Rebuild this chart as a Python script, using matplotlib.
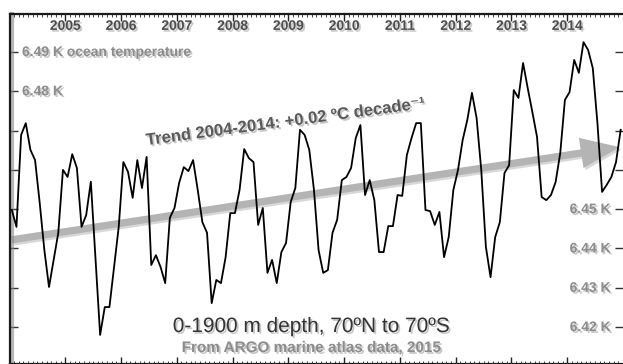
import numpy as np
import matplotlib
matplotlib.use("Agg")
import matplotlib.pyplot as plt
import matplotlib.patheffects as pe
from matplotlib.transforms import blended_transform_factory

plt.rcParams['font.family'] = ['Liberation Sans', 'DejaVu Sans']

# ---------------- data ----------------
start_year = 2004
# monthly mean ocean temperature (K), Jan 2004 .. Dec 2014, 0-1900 m
temperature = [
    6.4498, 6.4455, 6.4689, 6.4719, 6.4651, 6.4625, 6.4516, 6.4396, 6.4302, 6.4371, 6.4440, 6.4600,
    6.4582, 6.4640, 6.4605, 6.4455, 6.4485, 6.4570, 6.4376, 6.4180, 6.4251, 6.4251, 6.4353, 6.4455,
    6.4620, 6.4595, 6.4529, 6.4625, 6.4554, 6.4633, 6.4358, 6.4383, 6.4353, 6.4312, 6.4478, 6.4503,
    6.4567, 6.4607, 6.4597, 6.4625, 6.4549, 6.4467, 6.4440, 6.4261, 6.4320, 6.4312, 6.4378, 6.4490,
    6.4490, 6.4549, 6.4653, 6.4630, 6.4620, 6.4460, 6.4503, 6.4338, 6.4371, 6.4312, 6.4391, 6.4414,
    6.4518, 6.4554, 6.4702, 6.4689, 6.4651, 6.4550, 6.4396, 6.4338, 6.4345, 6.4440, 6.4473, 6.4574,
    6.4582, 6.4605, 6.4681, 6.4714, 6.4536, 6.4574, 6.4523, 6.4391, 6.4391, 6.4457, 6.4457, 6.4536,
    6.4534, 6.4638, 6.4681, 6.4719, 6.4719, 6.4498, 6.4495, 6.4460, 6.4493, 6.4378, 6.4429, 6.4549,
    6.4600, 6.4676, 6.4727, 6.4796, 6.4732, 6.4600, 6.4404, 6.4327, 6.4429, 6.4467, 6.4592, 6.4612,
    6.4803, 6.4783, 6.4872, 6.4808, 6.4747, 6.4684, 6.4531, 6.4523, 6.4536, 6.4569, 6.4643, 6.4778,
    6.4798, 6.4880, 6.4847, 6.4925, 6.4905, 6.4859, 6.4719, 6.4544, 6.4562, 6.4582, 6.4620, 6.4702,
]
year_labels = ['2005', '2006', '2007', '2008', '2009', '2010', '2011', '2012', '2013', '2014']
ytick_values = [6.42, 6.43, 6.44, 6.45, 6.46, 6.47, 6.48, 6.49]
left_labels = {6.49: '6.49 K ocean temperature', 6.48: '6.48 K'}
right_labels = {6.45: '6.45 K', 6.44: '6.44 K', 6.43: '6.43 K', 6.42: '6.42 K'}
trend_start_value = 6.4422
trend_end_value = 6.4658
trend_end_time = 2014.94
trend_text = 'Trend 2004-2014: +0.02 \u00baC decade\u207b\u00b9'
title_text = '0-1900 m depth, 70\u00baN to 70\u00baS'
source_text = 'From ARGO marine atlas data, 2015'

# ---------------- figure ----------------
W, H = 623, 364
fig = plt.figure(figsize=(W / 100, H / 100), dpi=100)
left_px, top_px = 9.5, 14
ax = fig.add_axes([left_px / W, 0.0, 1 - left_px / W, (H - top_px) / H])

months = np.arange(len(temperature))
t = start_year + (months + 0.5) / 12.0
x_lo, x_hi = 2004.039, 2014.995
ax.set_xlim(x_lo, x_hi)
ax.set_ylim(6.41061, 6.49967)

shadow = [pe.SimplePatchShadow(offset=(1.3, -1.3), shadow_rgbFace='#9a9a9a', alpha=0.55), pe.Normal()]

# trend arrow
ann = ax.annotate('', xy=(trend_end_time, trend_end_value), xytext=(x_lo, trend_start_value),
                  arrowprops=dict(arrowstyle='simple,head_length=0.7,head_width=0.55,tail_width=0.13',
                                  mutation_scale=40, facecolor='#b4b4b4', edgecolor='none',
                                  shrinkA=0, shrinkB=0), zorder=1)
ann.arrow_patch.set_path_effects([pe.SimplePatchShadow(offset=(1.5, -1.5), shadow_rgbFace='#cfcfcf', alpha=0.8),
                                  pe.Normal()])
ann.arrow_patch.set_clip_on(True)

# data line
ax.plot(t, temperature, color='black', lw=1.3, zorder=3)

# ticks
years = [int(y) for y in year_labels]
ax.set_xticks(years)
ax.set_xticks(np.arange(2004, 2015.001, 1 / 12.0), minor=True)
ax.set_xticklabels([])
ax.tick_params(axis='x', which='major', direction='in', top=True, bottom=True, length=5, width=1.0,
               color='#222222', labelbottom=False, labeltop=False)
ax.tick_params(axis='x', which='minor', direction='in', top=True, bottom=True, length=2, width=0.7,
               color='#444444')
ax.set_yticks(ytick_values)
ax.set_yticklabels([])
ax.tick_params(axis='y', which='major', direction='in', left=True, right=True, length=6, width=1.0,
               color='#333333', labelleft=False, labelright=False)

for side in ['left', 'top', 'bottom']:
    ax.spines[side].set_color('#1a1a1a')
    ax.spines[side].set_linewidth(1.6)
ax.spines['right'].set_visible(False)
ax.spines['left'].set_path_effects([pe.SimpleLineShadow(offset=(2, 0), shadow_color='#888888', alpha=0.6, linewidth=3),
                                    pe.Normal()])

# year labels inside top
tr_xa = blended_transform_factory(ax.transData, ax.transAxes)
for lab in year_labels:
    ax.text(int(lab), 0.966, lab, transform=tr_xa, ha='center', va='center', fontsize=10,
            fontweight='bold', color='#4d4d4d', path_effects=shadow)

# y labels inside
tr_ay = blended_transform_factory(ax.transAxes, ax.transData)
for v, lab in left_labels.items():
    ax.text(0.0204, v, lab, transform=tr_ay, ha='left', va='center', fontsize=10,
            fontweight='bold', color='#8c8c8c', path_effects=shadow)
for v, lab in right_labels.items():
    ax.text(0.980, v, lab, transform=tr_ay, ha='right', va='center', fontsize=10,
            fontweight='bold', color='#8c8c8c', path_effects=shadow)

# trend text
ax.text(2006.46, 6.4663, trend_text, ha='left', va='baseline', rotation=7.6, rotation_mode='anchor',
        fontsize=12, fontweight='bold', color='#5a5a5a', path_effects=shadow, zorder=4)

# bottom texts
ax.text(0.493, 0.0914, title_text, transform=ax.transAxes, ha='center', va='baseline', fontsize=15,
        color='#333333', path_effects=shadow, zorder=4)
ax.text(0.492, 0.0343, source_text, transform=ax.transAxes, ha='center', va='baseline', fontsize=11,
        fontweight='bold', color='#8c8c8c', path_effects=shadow, zorder=4)

fig.savefig('out.png', dpi=100, facecolor='white')
